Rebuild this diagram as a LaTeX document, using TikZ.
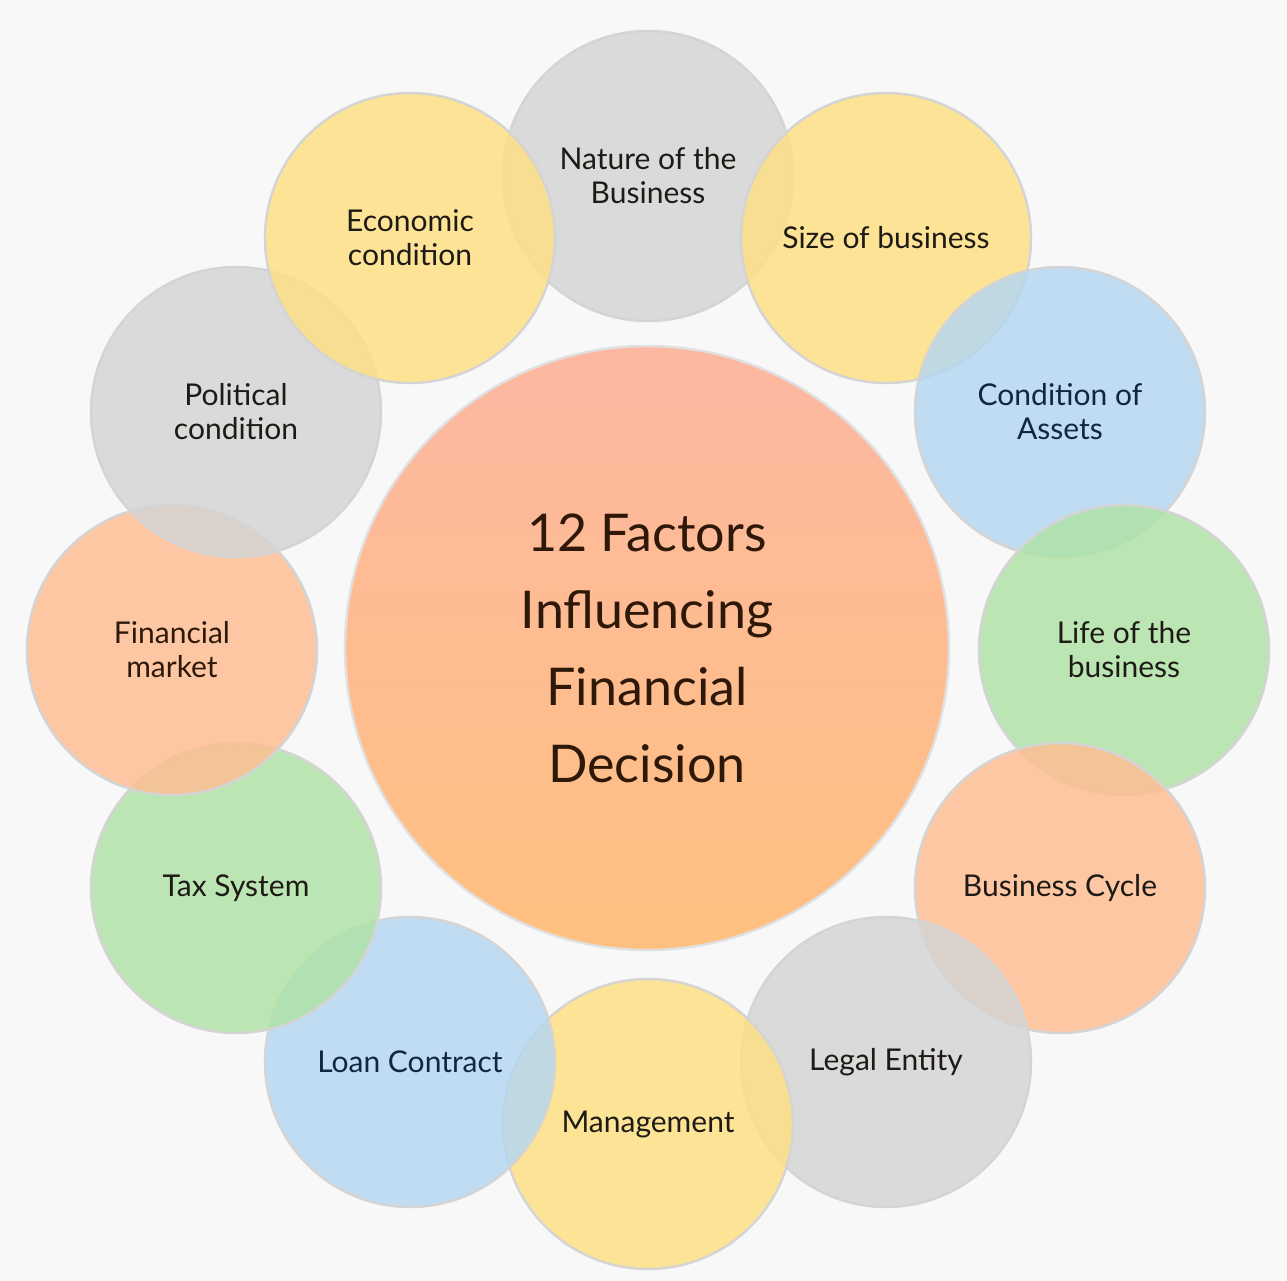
\documentclass[tikz,border=0pt]{standalone}
\usepackage{fontspec}
\setmainfont{Lato}
\definecolor{bgc}{HTML}{F8F8F8}
\definecolor{cgray}{HTML}{D4D4D4}
\definecolor{cyellow}{HTML}{FFDF80}
\definecolor{cblue}{HTML}{B3D6F2}
\definecolor{cgreen}{HTML}{AEE3A6}
\definecolor{corange}{HTML}{FFBD92}
\definecolor{ctop}{HTML}{FDB8A2}
\definecolor{cbot}{HTML}{FFC07F}
\definecolor{txtdark}{HTML}{1E1A16}
\definecolor{txtbrown}{HTML}{2E1809}
\definecolor{txtnavy}{HTML}{10283F}
\begin{document}
\begin{tikzpicture}[x=0.5pt,y=-0.5pt,
  outer/.style={circle, minimum size=145pt, inner sep=0pt, align=center,
    draw=black!17, line width=1.2pt, fill opacity=0.82, text opacity=1,
    text=txtdark, font=\fontsize{15pt}{17pt}\selectfont},
  hub/.style={circle, minimum size=302pt, inner sep=0pt, align=center,
    draw=black!12, line width=1.2pt, top color=ctop, bottom color=cbot,
    text=txtbrown, font=\fontsize{26pt}{38.5pt}\selectfont}]
\fill[bgc] (0,0) rectangle (1287,1281);
\useasboundingbox (0,0) rectangle (1287,1281);
\node[outer, fill=cgray] (nature) at (648,176) {Nature of the\\Business};
\node[outer, fill=cyellow] (size) at (886,238) {Size of business};
\node[outer, fill=cblue, text=txtnavy] (assets) at (1060,412) {Condition of\\Assets};
\node[outer, fill=cgreen] (life) at (1124,650) {Life of the\\business};
\node[outer, fill=corange] (cycle) at (1060,888) {Business Cycle};
\node[outer, fill=cgray] (legal) at (886,1062) {Legal Entity};
\node[outer, fill=cyellow] (mgmt) at (648,1124) {Management};
\node[outer, fill=cblue, text=txtnavy] (loan) at (410,1062) {Loan Contract};
\node[outer, fill=cgreen] (tax) at (236,888) {Tax System};
\node[outer, fill=corange, text=txtbrown] (fin) at (172,650) {Financial\\market};
\node[outer, fill=cgray] (pol) at (236,412) {Political\\condition};
\node[outer, fill=cyellow] (econ) at (410,238) {Economic\\condition};
\node[hub] (center) at (647,648) {12 Factors\\Influencing\\Financial\\Decision};
\end{tikzpicture}
\end{document}
